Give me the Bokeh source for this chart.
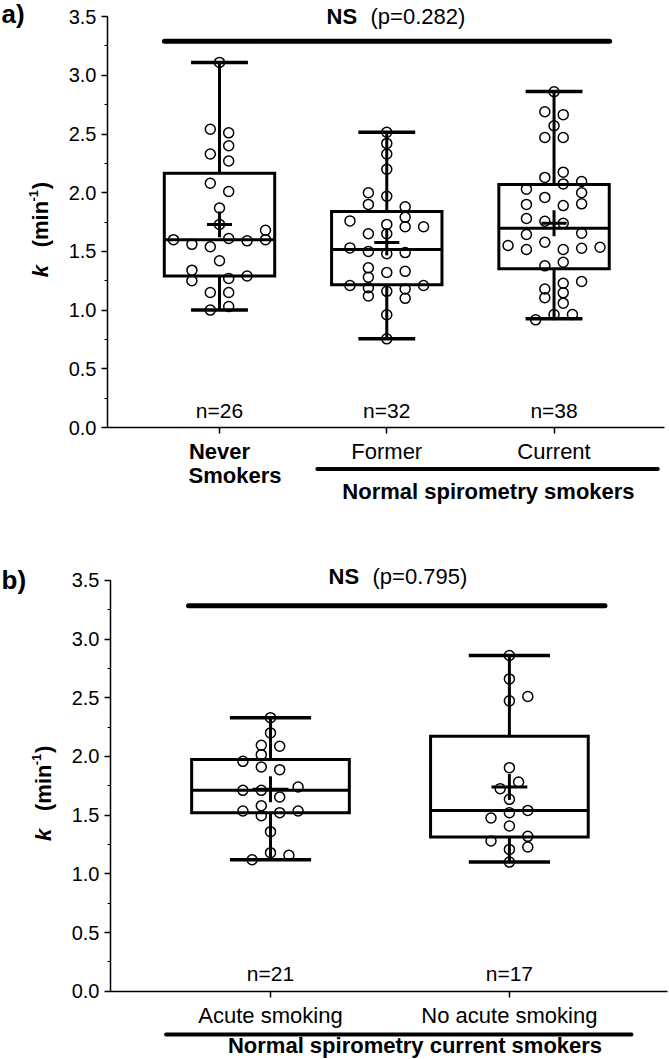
import math
from bokeh.plotting import figure
from bokeh.models import (ColumnDataSource, LinearAxis, SingleIntervalTicker,
                          FixedTicker, PrintfTickFormatter)
from bokeh.layouts import column
from bokeh.embed import file_html
from bokeh.resources import INLINE
from bokeh.core.properties import value

FONT = "Liberation Sans"

# ---------------- panel a: never / former / current smokers ----------------
a_groups = ["Never", "Former", "Current"]
a_n = [26, 32, 38]
a_pvalue = "(p=0.282)"

never_k = [3.11, 2.54, 2.51, 2.40, 2.33, 2.27, 2.08, 2.01, 1.87, 1.68, 1.60, 1.61,
           1.59, 1.60, 1.56, 1.54, 1.42, 1.34, 1.25, 1.27, 1.29, 1.15, 1.15, 1.03,
           1.00, 1.73]
never_col = [0, -1, 1, 1, -1, 1, -1, 1, 0, 5, -5, 1, 3, 5, -3, -1, 0, -3, -3, 1, 3,
             -1, 1, 1, -1, 0]

former_k = [2.515, 2.42, 2.33, 2.20, 2.00, 1.97, 1.90, 1.88, 1.79, 1.76, 1.73, 1.71,
            1.71, 1.65, 1.65, 1.53, 1.50, 1.48, 1.49, 1.36, 1.28, 1.32, 1.33, 1.21,
            1.21, 1.19, 1.16, 1.18, 1.12, 1.10, 0.96, 0.755]
former_col = [0, 0, 0, 0, -2, 0, -2, 2, 2, -4, 0, 2, 4, -2, 0, -4, -2, 0, 2, -2, -2,
              0, 2, -4, 4, -2, 0, 2, -2, 2, 0, 0]

current_k = [2.86, 2.69, 2.665, 2.57, 2.47, 2.47, 2.13, 2.175, 2.075, 2.095, 2.03,
             2.00, 1.96, 1.90, 1.905, 1.89, 1.78, 1.757, 1.74, 1.644, 1.655, 1.55,
             1.578, 1.516, 1.516, 1.527, 1.535, 1.377, 1.408, 1.244, 1.229, 1.18,
             1.147, 1.105, 1.059, 0.962, 0.962, 0.917]
current_col = [0, -1, 1, 0, -1, 1, -1, 1, 1, 3, -3, 3, -1, -3, 3, 1, -3, -1, 1, -3,
               3, -5, -1, -3, 1, 3, 5, -1, 1, 3, 1, -1, 1, -1, 1, 0, 2, -2]

a_low = [1.00, 0.755, 0.926]
a_q1 = [1.29, 1.215, 1.352]
a_median = [1.60, 1.516, 1.698]
a_q3 = [2.166, 1.84, 2.07]
a_high = [3.11, 2.515, 2.862]
a_mean = [1.73, 1.576, 1.74]

# ---------------- panel b: current smokers, acute vs no acute ----------------
b_groups = ["Acute smoking", "No acute smoking"]
b_n = [21, 17]
b_pvalue = "(p=0.795)"

acute_k = [2.33, 2.20, 2.095, 2.086, 2.015, 1.958, 1.91, 1.887, 1.739, 1.711, 1.711,
           1.654, 1.58, 1.535, 1.495, 1.521, 1.535, 1.359, 1.18, 1.157, 1.12]
acute_col = [0, 0, -1, 1, -1, -3, -1, 1, 3, -3, -1, 1, -1, -3, -1, 1, 3, 0, 0, 2, -2]

noacute_k = [2.859, 2.66, 2.51, 2.473, 1.904, 1.782, 1.725, 1.634, 1.540, 1.521,
             1.475, 1.407, 1.319, 1.279, 1.228, 1.208, 1.10]
noacute_col = [0, 0, 2, 0, 0, 1, -1, 0, 2, 0, -2, 0, 2, -2, 2, 0, 0]

b_low = [1.12, 1.10]
b_q1 = [1.521, 1.313]
b_median = [1.711, 1.540]
b_q3 = [1.973, 2.171]
b_high = [2.33, 2.859]
b_mean = [1.72, 1.739]

W = 669
COL_STEP_PX = 9.2   # horizontal spacing of stacked points, pixels
BOX_HALF = 0.33
CAP_HALF = 0.17
MEAN_HALF_W = 0.075
MEAN_HALF_H = 0.11
Y_PX = 117.4        # pixels per unit of k
AX_LEFT = 0.33      # where the y axis sits, in group units


def style_axis_text(ax, size, bold=False):
    ax.major_label_text_font = FONT
    ax.major_label_text_font_size = size
    ax.major_label_text_font_style = "bold" if bold else "normal"
    ax.major_label_text_color = "black"


def label(p, x, y, txt, size="22px", style="normal", align="center", **kw):
    p.text(x=[x], y=[y], text=[txt], text_font=value(FONT), text_font_style=style,
           text_font_size=size, text_align=align, text_baseline="middle",
           text_color="black", **kw)


def make_panel(n_groups, height, x_px_per_unit, first_px, zero_py,
               k_lists, col_lists, low, q1, med, q3, high, mean, counts):
    # the frame fills the whole canvas; axes sit at fixed data positions
    x_start = 1 - first_px / x_px_per_unit
    x_end = 1 + (W - first_px) / x_px_per_unit
    y_end = zero_py / Y_PX
    y_start = -(height - zero_py) / Y_PX
    p = figure(width=W, height=height, frame_width=W, frame_height=height,
               x_range=(x_start, x_end), y_range=(y_start, y_end),
               min_border=0, title=None,
               output_backend="svg", toolbar_location=None,
               x_axis_type=None, y_axis_type=None)
    p.grid.visible = False
    p.outline_line_color = None
    p.background_fill_color = "white"
    p.border_fill_color = "white"

    x_axis_end = n_groups + 0.66

    # y axis
    ya = LinearAxis(fixed_location=AX_LEFT, bounds=(0, 3.5))
    ya.ticker = SingleIntervalTicker(interval=0.5, num_minor_ticks=2)
    ya.formatter = PrintfTickFormatter(format="%.1f")
    style_axis_text(ya, "20px")
    ya.axis_line_width = 1.5
    ya.axis_line_color = "black"
    ya.major_tick_in = 0
    ya.major_tick_out = 6
    ya.minor_tick_in = 0
    ya.minor_tick_out = 3
    ya.major_tick_line_width = 1.5
    ya.minor_tick_line_width = 1.2
    ya.major_label_standoff = 5
    p.add_layout(ya, "left")

    px_per_unit = x_px_per_unit
    step = COL_STEP_PX / px_per_unit
    centers = list(range(1, n_groups + 1))

    # boxes
    box_src = ColumnDataSource(dict(
        c=centers, left=[c - BOX_HALF for c in centers], right=[c + BOX_HALF for c in centers],
        low=low, q1=q1, med=med, q3=q3, high=high, mean=mean,
        cap_l=[c - CAP_HALF for c in centers], cap_r=[c + CAP_HALF for c in centers],
        m_l=[c - MEAN_HALF_W for c in centers], m_r=[c + MEAN_HALF_W for c in centers],
        m_lo=[m - MEAN_HALF_H for m in mean], m_hi=[m + MEAN_HALF_H for m in mean],
    ))
    p.quad(left="left", right="right", bottom="q1", top="q3", source=box_src,
           fill_alpha=0, line_color="black", line_width=3, line_join="miter")
    p.segment(x0="left", x1="right", y0="med", y1="med", source=box_src,
              line_color="black", line_width=3)
    p.segment(x0="c", x1="c", y0="q3", y1="high", source=box_src,
              line_color="black", line_width=3)
    p.segment(x0="c", x1="c", y0="low", y1="q1", source=box_src,
              line_color="black", line_width=3)
    p.segment(x0="cap_l", x1="cap_r", y0="high", y1="high", source=box_src,
              line_color="black", line_width=3.5)
    p.segment(x0="cap_l", x1="cap_r", y0="low", y1="low", source=box_src,
              line_color="black", line_width=3.5)
    p.segment(x0="m_l", x1="m_r", y0="mean", y1="mean", source=box_src,
              line_color="black", line_width=3)
    p.segment(x0="c", x1="c", y0="m_lo", y1="m_hi", source=box_src,
              line_color="black", line_width=3)

    # individual values
    xs, ys = [], []
    for c, ks, cols in zip(centers, k_lists, col_lists):
        xs += [c + s * step for s in cols]
        ys += ks
    p.scatter(x=xs, y=ys, marker="circle", size=10, fill_alpha=0,
              line_color="black", line_width=1.5)

    # group sizes
    p.text(x=centers, y=[0.147] * n_groups, text=[f"n={n}" for n in counts],
           text_align="center", text_baseline="middle",
           text_font=value(FONT), text_font_size="21px", text_color="black")

    # k (min-1) axis title, written bottom to top
    tx = AX_LEFT - 67 / px_per_unit
    rot = dict(angle=math.pi / 2, text_align="left", text_baseline="middle",
               text_font=value(FONT), text_color="black")
    p.text(x=[tx], y=[1.28], text=["k"], text_font_style="bold italic",
           text_font_size="22px", **rot)
    p.text(x=[tx], y=[1.535], text=["(min"], text_font_style="bold",
           text_font_size="22px", **rot)
    p.text(x=[tx - 7 / px_per_unit], y=[1.925], text=["-1"], text_font_style="bold",
           text_font_size="13px", **rot)
    p.text(x=[tx], y=[2.03], text=[")"], text_font_style="bold",
           text_font_size="22px", **rot)

    return p, x_start, x_axis_end, px_per_unit


def x_axis(p, ticks, labels, x_end, size="22px", bold=False, line=True,
           standoff=5):
    ax = LinearAxis(fixed_location=0, bounds=(AX_LEFT, x_end))
    ax.ticker = FixedTicker(ticks=ticks)
    ax.major_label_overrides = {t: lab for t, lab in zip(ticks, labels)}
    style_axis_text(ax, size, bold)
    ax.axis_line_width = 1.5
    ax.axis_line_color = "black" if line else None
    ax.major_tick_in = 0
    ax.major_tick_out = 6
    ax.major_tick_line_width = 1.5
    ax.minor_tick_line_color = None
    ax.major_label_standoff = standoff
    p.add_layout(ax, "below")


def ns_header(p, x0, x1, line_y, pvalue, ns_x, p_x, text_y):
    p.segment(x0=[x0], x1=[x1], y0=[line_y], y1=[line_y], line_color="black",
              line_width=5, line_cap="round")
    label(p, ns_x, text_y, "NS", style="bold", align="left")
    label(p, p_x, text_y, pvalue, align="left")


def bracket(p, x0, x1, y, txt, text_x, text_y):
    p.segment(x0=[x0], x1=[x1], y0=[y], y1=[y], line_color="black", line_width=4,
              line_cap="round")
    label(p, text_x, text_y, txt, style="bold")


# ---------------- build panel a ----------------
pa, a_x0, a_x1, ppu_a = make_panel(3, 540, 167.27, 219, 427,
                                   [never_k, former_k, current_k],
                                   [never_col, former_col, current_col],
                                   a_low, a_q1, a_median, a_q3, a_high, a_mean, a_n)
x_axis(pa, [2, 3], a_groups[1:], a_x1)
x_axis(pa, [1], a_groups[:1], a_x1, bold=True, line=False)
label(pa, 0.815, -0.406, "Smokers", style="bold", align="left")
ns_header(pa, 0.671, 3.332, 3.29, a_pvalue, 1.640, 1.903, 3.497)
label(pa, a_x0 + 1 / ppu_a, 3.526, "a)", size="26px", style="bold", align="left")
bracket(pa, 1.585, 3.62, -0.353, "Normal spirometry smokers", 2.608, -0.547)

# ---------------- build panel b ----------------
pb, b_x0, b_x1, ppu_b = make_panel(2, 519, 238.9, 270, 450.7,
                                   [acute_k, noacute_k], [acute_col, noacute_col],
                                   b_low, b_q1, b_median, b_q3, b_high, b_mean, b_n)
x_axis(pb, [1, 2], b_groups, b_x1, standoff=6)
ns_header(pb, 0.657, 2.40, 3.283, b_pvalue, 1.243, 1.427, 3.535)
label(pb, b_x0 + 1 / ppu_b, 3.505, "b)", size="26px", style="bold", align="left")
bracket(pb, 0.563, 2.511, -0.369, "Normal spirometry current smokers", 1.605, -0.462)

layout = column(pa, pb)
open("out.html", "w").write(file_html(layout, INLINE))
